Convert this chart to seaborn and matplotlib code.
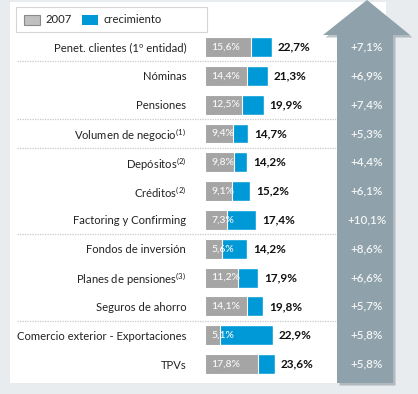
import matplotlib
matplotlib.use("Agg")
import matplotlib.pyplot as plt
import matplotlib.transforms as mtransforms
from matplotlib.patches import Rectangle, Polygon
import seaborn as sns
import pandas as pd

# ---------------- data ----------------
categories = ["Penet. clientes (1º entidad)", "Nóminas", "Pensiones",
              "Volumen de negocio$^{(1)}$", "Depósitos$^{(2)}$", "Créditos$^{(2)}$",
              "Factoring y Confirming", "Fondos de inversión",
              "Planes de pensiones$^{(3)}$", "Seguros de ahorro",
              "Comercio exterior - Exportaciones", "TPVs"]
values_2007 = [15.6, 14.4, 12.5, 9.4, 9.8, 9.1, 7.3, 5.6, 11.2, 14.1, 5.1, 17.8]
values_total = [22.7, 21.3, 19.9, 14.7, 14.2, 15.2, 17.4, 14.2, 17.9, 19.8, 22.9, 23.6]
growth_labels = ["+7,1%", "+6,9%", "+7,4%", "+5,3%", "+4,4%", "+6,1%",
                 "+10,1%", "+8,6%", "+6,6%", "+5,7%", "+5,8%", "+5,8%"]
group_breaks = [0, 2, 3, 6, 9]   # separator after these rows
legend_labels = ["2007", "crecimiento"]

# ---------------- style ----------------
sns.set_theme(style="white")
plt.rcParams['font.family'] = ['Lato', 'DejaVu Sans']
plt.rcParams['mathtext.fontset'] = 'custom'
plt.rcParams['mathtext.rm'] = 'Lato'
plt.rcParams['mathtext.it'] = 'Lato:italic'
plt.rcParams['mathtext.bf'] = 'Lato:bold'

BLUE = "#0099d8"
GRAY = "#a5a5a5"
ARROW = "#8fa2ac"
BG = "#e9ecef"
TXT = "#222222"

W, H = 418, 394
fig = plt.figure(figsize=(W / 100, H / 100), dpi=100)
fig.patch.set_facecolor(BG)

def fx(x):
    return x / W

def fy(y):
    return 1 - y / H

# white panel
fig.add_artist(Rectangle((fx(10), fy(383)), fx(386) - fx(10), fy(2) - fy(383),
                         transform=fig.transFigure, facecolor="white",
                         edgecolor="none", zorder=-5))

# main axes mapped to pixels: left edge = bar origin
PX_PER = 2.95
X0 = 205
ROW0, ROWSTEP = 47, 28.82
ax = fig.add_axes([fx(X0), 0, 1 - fx(X0), 1])
ax.set_facecolor("none")

df = pd.DataFrame({"cat": categories, "v2007": values_2007, "total": values_total})
sns.barplot(data=df, x="total", y="cat", orient="h", color=BLUE, saturation=1,
            width=0.69, errorbar=None, ax=ax)
sns.barplot(data=df, x="v2007", y="cat", orient="h", color=GRAY, saturation=1,
            width=0.69, errorbar=None, ax=ax, edgecolor="white", linewidth=0.8)

ax.set_xlim(0, (W - X0) / PX_PER)
ax.set_ylim((H - ROW0) / ROWSTEP, -ROW0 / ROWSTEP)
for s in ax.spines.values():
    s.set_visible(False)
ax.set_xticks([])
ax.set_xlabel("")
ax.set_ylabel("")
ax.tick_params(axis="y", length=0, pad=13.5, labelsize=8.1, labelcolor=TXT)

# separators (in pixel fractions of the whole figure)
sep_tr = mtransforms.blended_transform_factory(fig.transFigure, ax.transData)
for b in group_breaks:
    ax.plot([fx(17), fx(337)], [b + 0.5, b + 0.5], transform=sep_tr,
            color="#c9c9c9", lw=0.9, ls=(0, (1, 1)), zorder=0, clip_on=False)

# value labels
for i, (v, t) in enumerate(zip(values_2007, values_total)):
    ax.text(6 / PX_PER, i, f"{v:.1f}%".replace(".", ","), ha="left", va="center",
            fontsize=7.5, fontweight="semibold", color="#f4f4f4", zorder=5)
    ax.text(t + 6 / PX_PER, i, f"{t:.1f}%".replace(".", ","), ha="left",
            va="center", fontsize=8.5, fontweight="bold", color="#111111", zorder=5)

# arrow
pts = [(367, 0), (410, 35), (393, 35), (393, 383), (337, 383), (337, 35), (323, 35)]
shadow = [(fx(x + 2.5), fy(y + 2.5)) for x, y in pts]
fig.add_artist(Polygon(shadow, closed=True, transform=fig.transFigure,
                       facecolor="#5f6e76", alpha=0.4, edgecolor="none", zorder=1))
fig.add_artist(Polygon([(fx(x), fy(y)) for x, y in pts], closed=True,
                       transform=fig.transFigure, facecolor=ARROW,
                       edgecolor="none", zorder=2))
for i, g in enumerate(growth_labels):
    fig.text(fx(367), i, g, transform=sep_tr, ha="center", va="center",
             fontsize=8.4, fontweight="semibold", color="#f4f4f4", zorder=3)

# legend
fig.add_artist(Rectangle((fx(16), fy(32)), fx(207) - fx(16), fy(7) - fy(32),
                         transform=fig.transFigure, facecolor="white",
                         edgecolor="#d6d6d6", lw=0.8, zorder=-4))
fig.add_artist(Rectangle((fx(24), fy(25)), fx(16), fy(0) - fy(10),
                         transform=fig.transFigure, facecolor="#c0c0c0",
                         edgecolor="#8a8a8a", lw=0.8, zorder=3))
fig.text(fx(45), fy(19.5), legend_labels[0], ha="left", va="center",
         fontsize=8.1, color=TXT)
fig.add_artist(Rectangle((fx(82), fy(25)), fx(16), fy(0) - fy(10),
                         transform=fig.transFigure, facecolor=BLUE,
                         edgecolor="none", zorder=3))
fig.text(fx(104), fy(19.5), legend_labels[1], ha="left", va="center",
         fontsize=8.1, color=TXT)

fig.savefig("out.png", dpi=100, facecolor=fig.get_facecolor())
